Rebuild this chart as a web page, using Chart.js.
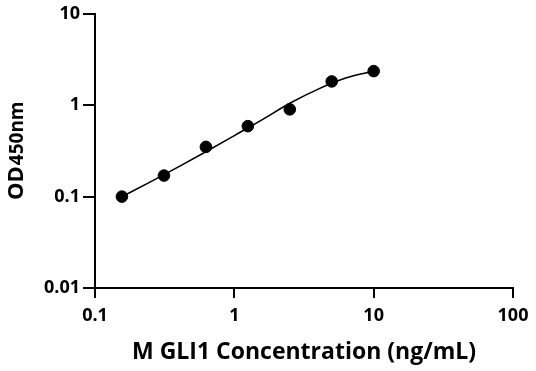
<!DOCTYPE html>
<html>
<head>
<meta charset="utf-8">
<script src="https://cdn.jsdelivr.net/npm/chart.js@4/dist/chart.umd.min.js"></script>
<style>
  html, body { margin: 0; padding: 0; background: #fff; }
  #wrap { width: 536px; height: 371px; position: relative; }
</style>
</head>
<body>
<div id="wrap"><canvas id="c" width="536" height="371"></canvas></div>
<script>
// ---- data ----
const concentrations = [0.156, 0.3125, 0.625, 1.25, 2.5, 5, 10];
const odValues = [0.1, 0.17, 0.35, 0.59, 0.9, 1.82, 2.36];
// fitted curve
const fitConc = [0.156, 0.25, 0.4, 0.625, 1, 1.6, 2.5, 4, 6.3, 10];
const fitOD = [0.1, 0.145, 0.213, 0.31, 0.465, 0.7, 1.05, 1.5, 1.98, 2.36];
const xTickValues = [0.1, 1, 10, 100];
const yTickValues = [0.01, 0.1, 1, 10];
const xTitle = 'M GLI1 Concentration (ng/mL)';
const yTitleMain = 'OD';
const yTitleSub = '450nm';

const FONT = '"Open Sans", "DejaVu Sans", sans-serif';

const yTitlePlugin = {
  id: 'yTitle',
  afterDraw(chart) {
    const ctx = chart.ctx;
    ctx.save();
    ctx.fillStyle = '#000';
    ctx.translate(23, 200);
    ctx.rotate(-Math.PI / 2);
    ctx.textBaseline = 'alphabetic';
    ctx.textAlign = 'left';
    ctx.font = 'bold 22px ' + FONT;
    ctx.fillText(yTitleMain, 0, 0);
    const w = ctx.measureText(yTitleMain).width;
    ctx.font = 'bold 19px ' + FONT;
    ctx.fillText(yTitleSub, w + 1, 0);
    ctx.restore();
  }
};

new Chart(document.getElementById('c'), {
  type: 'scatter',
  data: {
    datasets: [
      {
        type: 'line',
        data: fitConc.map((x, i) => ({ x, y: fitOD[i] })),
        borderColor: '#000',
        borderWidth: 1.6,
        pointRadius: 0,
        fill: false,
        cubicInterpolationMode: 'monotone',
        order: 2
      },
      {
        data: concentrations.map((x, i) => ({ x, y: odValues[i] })),
        backgroundColor: '#000',
        borderColor: '#000',
        pointRadius: 5.8,
        pointHoverRadius: 5.8,
        order: 1
      }
    ]
  },
  options: {
    responsive: false,
    animation: false,
    devicePixelRatio: 1,
    layout: { padding: { top: 13, right: 23, left: 0, bottom: 0 } },
    plugins: { legend: { display: false }, tooltip: { enabled: false } },
    scales: {
      x: {
        type: 'logarithmic',
        min: 0.1,
        max: 100,
        afterBuildTicks: (s) => { s.ticks = xTickValues.map(v => ({ value: v })); },
        afterFit: (s) => { s.height = 83; },
        grid: { display: true, drawOnChartArea: false, drawTicks: true, tickLength: 10, color: '#000', lineWidth: 2 },
        border: { display: true, color: '#000', width: 2 },
        ticks: {
          color: '#000',
          font: { family: FONT, size: 18, weight: 'bold' },
          padding: 7,
          maxRotation: 0,
          autoSkip: false,
          callback: (v) => String(v)
        },
        title: {
          display: true,
          text: xTitle,
          color: '#000',
          font: { family: FONT, size: 23, weight: 'bold' },
          padding: { top: 0, bottom: 5 }
        }
      },
      y: {
        type: 'logarithmic',
        min: 0.01,
        max: 10,
        afterBuildTicks: (s) => { s.ticks = yTickValues.map(v => ({ value: v })); },
        afterFit: (s) => { s.width = 95; },
        grid: { display: true, drawOnChartArea: false, drawTicks: true, tickLength: 12, color: '#000', lineWidth: 2 },
        border: { display: true, color: '#000', width: 2 },
        ticks: {
          color: '#000',
          font: { family: FONT, size: 18, weight: 'bold' },
          padding: 3,
          autoSkip: false,
          callback: (v) => String(v)
        }
      }
    }
  },
  plugins: [yTitlePlugin]
});
</script>
</body>
</html>
